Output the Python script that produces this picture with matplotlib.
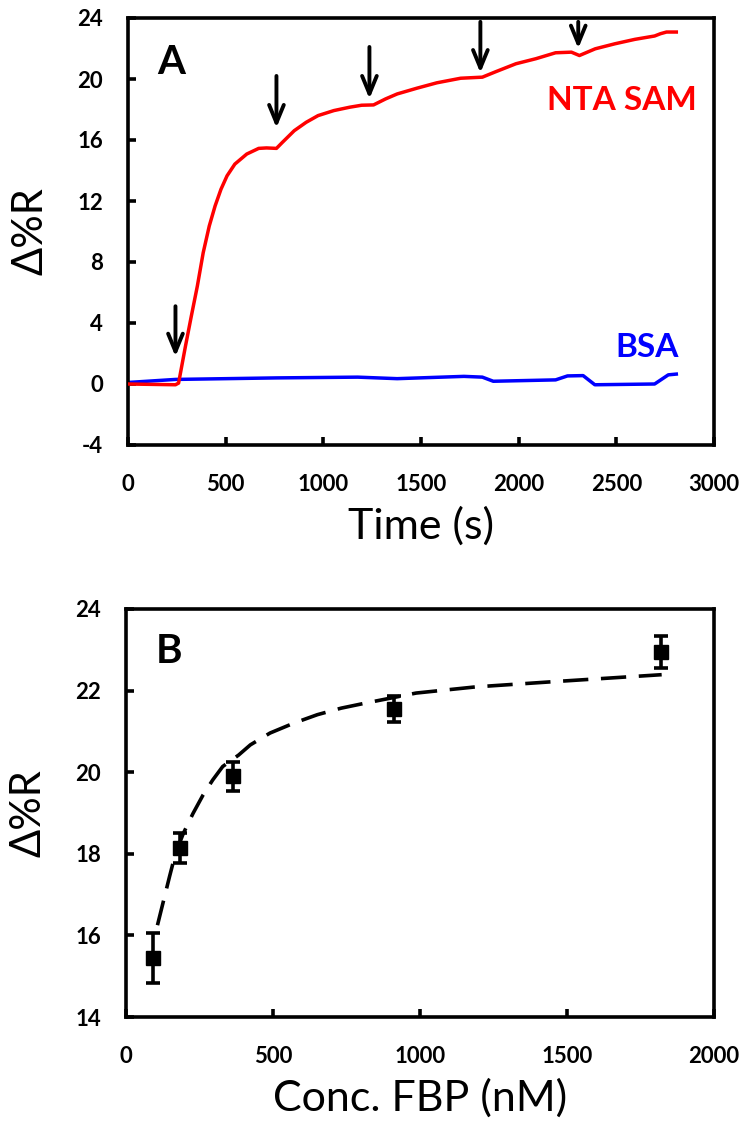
import matplotlib
matplotlib.use('Agg')
import matplotlib.pyplot as plt

plt.rcParams['font.family'] = ['Lato', 'DejaVu Sans']
plt.rcParams['axes.unicode_minus'] = False

# ── Panel A: reflectivity change vs time ───────────────────────────────────────
nta_t = [0, 243, 259, 294, 324, 355, 385, 416, 446, 476, 507, 547, 608, 669, 709,
         760, 790, 851, 912, 973, 1054, 1135, 1196, 1257, 1318, 1378, 1480, 1581,
         1703, 1814, 1885, 1986, 2088, 2189, 2270, 2311, 2392, 2493, 2595, 2696,
         2726, 2757, 2807]
nta_r = [0.0, -0.05, 0.06, 2.47, 4.44, 6.42, 8.61, 10.36, 11.68, 12.77, 13.65,
         14.42, 15.08, 15.45, 15.48, 15.45, 15.84, 16.61, 17.16, 17.60, 17.93,
         18.15, 18.28, 18.30, 18.69, 19.02, 19.40, 19.75, 20.05, 20.12, 20.49,
         21.0, 21.33, 21.72, 21.76, 21.54, 21.98, 22.31, 22.60, 22.82, 22.97,
         23.08, 23.08]

bsa_t = [0, 243, 760, 1176, 1378, 1720, 1814, 1870, 2189, 2250, 2330, 2390,
         2696, 2766, 2807]
bsa_r = [0.1, 0.3, 0.4, 0.45, 0.35, 0.5, 0.45, 0.18, 0.27, 0.53, 0.55, -0.05,
         0.0, 0.6, 0.65]

# injection arrows: time, tail, tip
arrow_t = [243, 760, 1236, 1804, 2305]
arrow_top = [5.1, 20.2, 22.1, 23.75, 23.75]
arrow_tip = [1.8, 16.8, 18.7, 20.4, 22.0]

# ── Panel B: binding isotherm ──────────────────────────────────────────────────
conc = [91, 182, 364, 910, 1820]
resp = [15.45, 18.15, 19.9, 21.55, 22.95]
resp_err = [0.61, 0.37, 0.35, 0.32, 0.40]

fit_x = [107, 128, 148, 168, 195, 228, 262, 295, 329, 383, 423, 490, 570, 651,
         732, 812, 987, 1188, 1456, 1822]
fit_y = [16.25, 16.86, 17.44, 18.00, 18.50, 18.99, 19.44, 19.81, 20.14, 20.42,
         20.67, 20.96, 21.20, 21.41, 21.57, 21.69, 21.94, 22.09, 22.22, 22.39]

W, H = 746, 1128
fig = plt.figure(figsize=(W / 100, H / 100), dpi=100)
axA = fig.add_axes([128 / W, 1 - 445 / H, 586 / W, 427 / H])
axB = fig.add_axes([126 / W, 1 - 1017 / H, 588 / W, 408 / H])


def style(ax):
    for s in ax.spines.values():
        s.set_linewidth(2.6)
    ax.tick_params(direction='in', length=6, width=2.6, labelsize=16,
                   top=False, right=False)
    ax.tick_params(axis='x', pad=21)
    ax.tick_params(axis='y', pad=18)
    for lab in ax.get_xticklabels() + ax.get_yticklabels():
        lab.set_fontweight('bold')


axA.plot(nta_t, nta_r, color='#ff0000', lw=2.5, zorder=3)
axA.plot(bsa_t, bsa_r, color='#0000ff', lw=2.5, zorder=2)
for t, y0, y1 in zip(arrow_t, arrow_top, arrow_tip):
    axA.annotate('', xy=(t, y1), xytext=(t, y0),
                 arrowprops=dict(arrowstyle='->,head_length=0.8,head_width=0.33',
                                 color='k', lw=2.8, mutation_scale=16,
                                 shrinkA=0, shrinkB=0))
axA.set_xlim(0, 3000)
axA.set_ylim(-4, 24)
axA.set_xticks(range(0, 3001, 500))
axA.set_yticks(range(-4, 25, 4))
axA.set_xlabel('Time (s)', fontsize=31, labelpad=8)
axA.set_ylabel('Δ%R', fontsize=30, labelpad=20)
axA.text(0.05, 0.94, 'A', transform=axA.transAxes, fontsize=29,
         fontweight='bold', va='top', ha='left')
axA.text(2910, 18.0, 'NTA SAM', color='#ff0000', fontsize=24,
         fontweight='bold', ha='right', va='baseline')
axA.text(2820, 1.8, 'BSA', color='#0000ff', fontsize=24,
         fontweight='bold', ha='right', va='baseline')
style(axA)

axB.plot(fit_x, fit_y, color='k', lw=2.6, dashes=(7, 3.5))
axB.errorbar(conc, resp, yerr=resp_err, fmt='s', color='k', ms=10,
             elinewidth=2.6, capsize=5, capthick=2.6)
axB.set_xlim(0, 2000)
axB.set_ylim(14, 24)
axB.set_xticks(range(0, 2001, 500))
axB.set_yticks(range(14, 25, 2))
axB.set_xlabel('Conc. FBP (nM)', fontsize=31, labelpad=8)
axB.set_ylabel('Δ%R', fontsize=30, labelpad=20)
axB.text(0.05, 0.94, 'B', transform=axB.transAxes, fontsize=29,
         fontweight='bold', va='top', ha='left')
style(axB)

fig.savefig('out.png', dpi=100)
